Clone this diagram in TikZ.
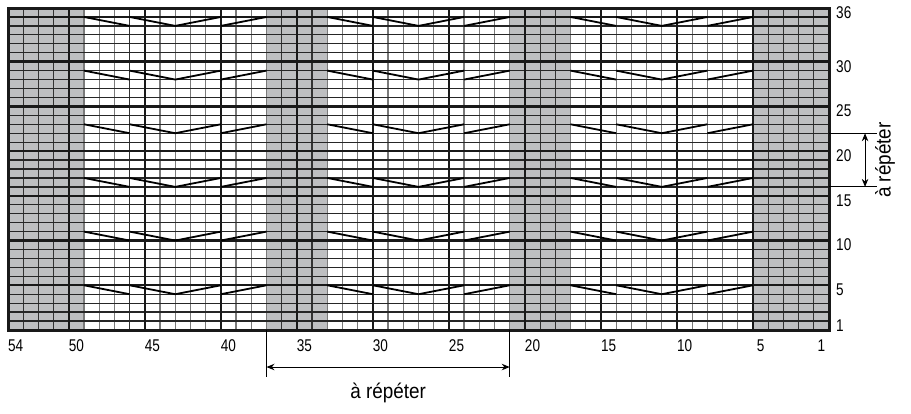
\documentclass[tikz,border=0pt]{standalone}
\usepackage{fontspec}
\usepackage{tikz}
\usetikzlibrary{arrows.meta}
\newfontfamily\chartfont[FakeStretch=0.8]{Liberation Sans}
\newfontfamily\repeatfont[FakeStretch=0.9]{Liberation Sans}
\definecolor{knitgray}{HTML}{BEBFC1}
\definecolor{knitline}{HTML}{7A7A7A}
\tikzset{
  thinRow/.style={draw=black!85, line width=1.25pt},
  thinCol/.style={draw=knitline, line width=1.25pt},
  thinColDark/.style={draw=black!80, line width=1.25pt},
  boldLine/.style={draw=black!90, line width=2.4pt},
  chevLine/.style={draw=black, line width=1.8pt, line join=miter},
  repeatTick/.style={draw=black, line width=1pt},
  repeatArrow/.style={{Stealth[length=8pt,width=6.5pt]}-{Stealth[length=8pt,width=6.5pt]}, draw=black, line width=1pt},
  numLabel/.style={font=\chartfont\fontsize{17}{17}\selectfont, inner sep=0pt},
  repeatLabel/.style={font=\repeatfont\fontsize{21}{21}\selectfont, inner sep=0pt}
}

\begin{document}
\begin{tikzpicture}[x=1pt,y=1pt]
  \useasboundingbox (0,0) rectangle (911,413);
  \begin{scope}[shift={(8,83)}, x=15.204pt, y=8.944pt]
    % grey columns
    \foreach \a/\b in {0/5, 17/21, 33/37, 49/54}
      \fill[knitgray] (\a,0) rectangle (\b,36);
    \foreach \i in {1,...,53}
      \draw[thinCol] (\i,0) -- (\i,36);
    \foreach \i in {1,2,3,8,18,19,20,34,35,36,50,51,52,53}
      \draw[thinColDark] (\i,0) -- (\i,36);
    \foreach \j in {1,...,35}
      \draw[thinRow] (0,\j) -- (54,\j);
    \foreach \i in {4,9,...,49}
      \draw[boldLine] (\i,0) -- (\i,36);
    \foreach \j in {5,10,...,35}
      \draw[boldLine] (0,\j) -- (54,\j);
    \draw[boldLine, line width=3pt] (0,0) rectangle (54,36);
    % chevrons
    \foreach \s in {5,21,37}
      \foreach \r in {5,11,...,35} {
        \draw[chevLine] (\s,\r) -- (\s+3,\r-1);
        \draw[chevLine] (\s+3,\r) -- (\s+6,\r-1) -- (\s+9,\r);
        \draw[chevLine] (\s+9,\r-1) -- (\s+12,\r);
      }
    % numbering
    \foreach \r in {1,5,10,15,20,25,30,36}
      \node[numLabel, anchor=west] (row\r) at (54.46,\r-0.5) {\r};
    \foreach \n in {54,50,45,40,35,30,25,20,15,10,5,1}
      \node[numLabel] (col\n) at (54.5-\n,-1.79) {\n};
    % repeat, stitches
    \coordinate (stA) at (17,0);
    \coordinate (stAend) at (17,-5.25);
    \coordinate (stB) at (33,0);
    \coordinate (stBend) at (33,-5.25);
    \coordinate (stL) at (17,-4.14);
    \coordinate (stR) at (33,-4.14);
    \draw[repeatTick] (stA) -- (stAend);
    \draw[repeatTick] (stB) -- (stBend);
    \draw[repeatArrow] (stL) -- (stR);
    \node[repeatLabel] (stLabel) at (25,-7.04) {à répéter};
    % repeat, rows
    \coordinate (rwA) at (54,16);
    \coordinate (rwAend) at (57.15,16);
    \coordinate (rwB) at (54,22);
    \coordinate (rwBend) at (57.15,22);
    \coordinate (rwL) at (56.37,16);
    \coordinate (rwU) at (56.37,22);
    \draw[repeatTick] (rwA) -- (rwAend);
    \draw[repeatTick] (rwB) -- (rwBend);
    \draw[repeatArrow] (rwL) -- (rwU);
    \node[repeatLabel, rotate=90] (rwLabel) at (57.68,19) {à répéter};
  \end{scope}
\end{tikzpicture}
\end{document}
